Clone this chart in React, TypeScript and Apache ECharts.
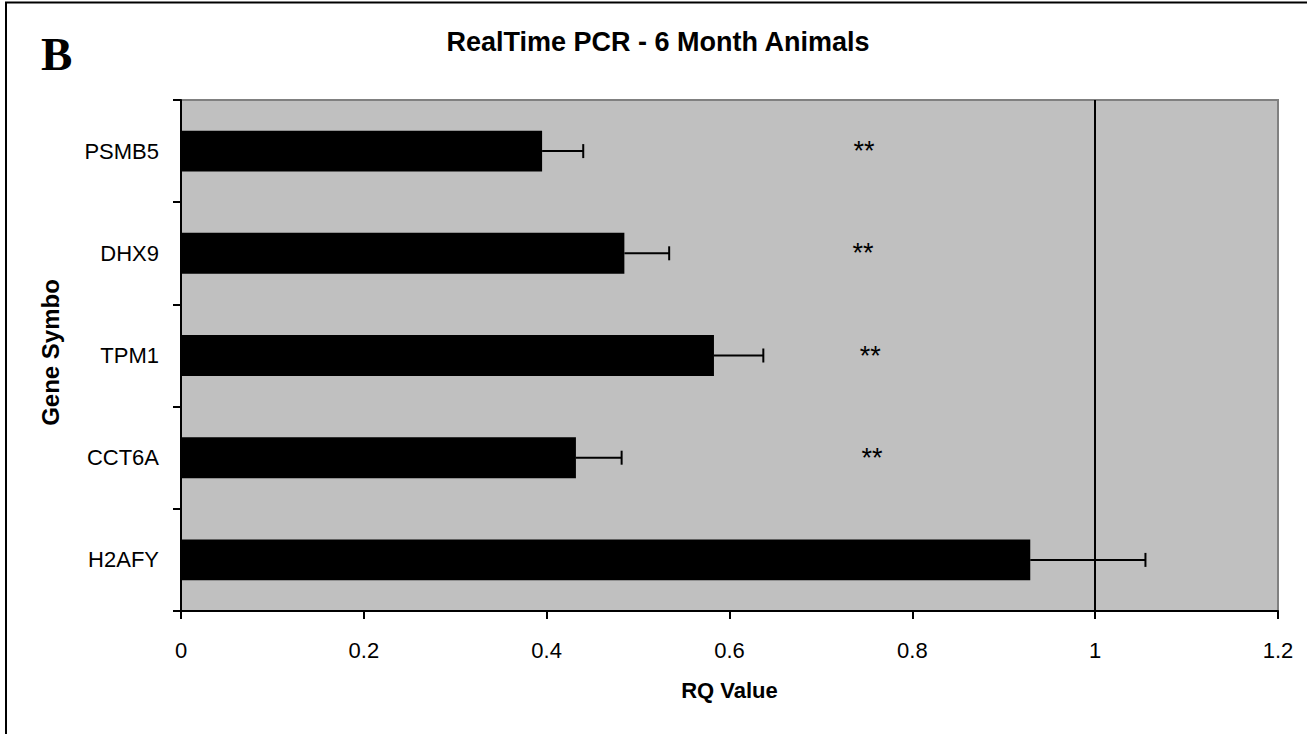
import React, { useEffect, useRef } from "react";
import * as echarts from "echarts";

const categories = ["PSMB5", "DHX9", "TPM1", "CCT6A", "H2AFY"];
const rqValues = [0.395, 0.485, 0.583, 0.432, 0.929];
const rqErrors = [0.045, 0.049, 0.054, 0.05, 0.126];
const starX = [0.747, 0.746, 0.754, 0.756, null];
const starText = ["**", "**", "**", "**", ""];
const xTicks = { min: 0, max: 1.2, interval: 0.2 };
const referenceLine = 1;

const SANS = "'Liberation Sans', Arial, sans-serif";

export default function App() {
  const ref = useRef<HTMLDivElement>(null);
  useEffect(() => {
    if (!ref.current) return;
    const chart = echarts.init(ref.current, null, { renderer: "svg" });
    const errData = categories.map((c, i) => [rqValues[i], i, rqValues[i] + rqErrors[i]]);
    const starData: any[] = [];
    starX.forEach((x, i) => {
      if (x !== null) starData.push([x, i, starText[i]]);
    });
    chart.setOption({
      animation: false,
      backgroundColor: "#ffffff",
      textStyle: { fontFamily: SANS },
      graphic: [
        {
          type: "rect",
          shape: { x: 6, y: 2.5, width: 1400, height: 800 },
          style: { fill: "none", stroke: "#000", lineWidth: 2 },
          z: 100,
        },
        {
          type: "text",
          x: 41,
          y: 30,
          style: {
            text: "B",
            fontFamily: "'Liberation Serif', 'Times New Roman', serif",
            fontWeight: "bold",
            fontSize: 47,
            fill: "#000",
            align: "left",
            verticalAlign: "top",
          },
        },
        {
          type: "text",
          x: 658,
          y: 42,
          style: {
            text: "RealTime PCR - 6 Month Animals",
            fontFamily: SANS,
            fontWeight: "bold",
            fontSize: 27,
            fill: "#000",
            align: "center",
            verticalAlign: "middle",
          },
        },
      ],
      grid: {
        left: 181,
        top: 100,
        width: 1097,
        height: 511,
        show: true,
        backgroundColor: "#C0C0C0",
        borderColor: "#808080",
        borderWidth: 2,
      },
      xAxis: {
        type: "value",
        min: xTicks.min,
        max: xTicks.max,
        interval: xTicks.interval,
        name: "RQ Value",
        nameLocation: "middle",
        nameGap: 68,
        nameTextStyle: { fontFamily: SANS, fontWeight: "bold", fontSize: 22, color: "#000" },
        axisLine: { show: true, lineStyle: { color: "#000", width: 2 } },
        axisTick: { show: true, length: 8, lineStyle: { color: "#000", width: 2 } },
        axisLabel: { margin: 28, fontSize: 22, color: "#000", fontFamily: SANS },
        splitLine: { show: false },
      },
      yAxis: {
        type: "category",
        data: categories,
        inverse: true,
        name: "Gene Symbo",
        nameLocation: "middle",
        nameGap: 119,
        nameTextStyle: { fontFamily: SANS, fontWeight: "bold", fontSize: 24, color: "#000", padding: [0, 0, 0, 6] },
        axisLine: { show: true, lineStyle: { color: "#000", width: 2 } },
        axisTick: { show: true, length: 8, lineStyle: { color: "#000", width: 2 } },
        axisLabel: { margin: 22, fontSize: 22, color: "#000", fontFamily: SANS },
        splitLine: { show: false },
      },
      series: [
        {
          type: "bar",
          data: rqValues,
          barWidth: "40%",
          itemStyle: { color: "#000" },
          markLine: {
            silent: true,
            symbol: "none",
            label: { show: false },
            lineStyle: { color: "#000", width: 2, type: "solid" },
            data: [{ xAxis: referenceLine }],
          },
        },
        {
          type: "custom",
          data: errData,
          encode: { x: [0, 2], y: 1 },
          renderItem: (params: any, api: any) => {
            const s = api.coord([api.value(0), api.value(1)]);
            const e = api.coord([api.value(2), api.value(1)]);
            const cap = 7;
            return {
              type: "group",
              children: [
                {
                  type: "line",
                  shape: { x1: s[0], y1: s[1], x2: e[0], y2: e[1] },
                  style: { stroke: "#000", lineWidth: 2 },
                },
                {
                  type: "line",
                  shape: { x1: e[0], y1: e[1] - cap, x2: e[0], y2: e[1] + cap },
                  style: { stroke: "#000", lineWidth: 2 },
                },
              ],
            };
          },
          z: 5,
        },
        {
          type: "custom",
          data: starData,
          encode: { x: 0, y: 1 },
          renderItem: (params: any, api: any) => {
            const p = api.coord([api.value(0), api.value(1)]);
            const d = starData[params.dataIndex];
            return {
              type: "text",
              x: p[0],
              y: p[1],
              style: {
                text: d[2],
                fontFamily: SANS,
                fontSize: 27,
                fill: "#000",
                align: "center",
                verticalAlign: "middle",
              },
            };
          },
          z: 6,
        },
      ],
    });
    return () => chart.dispose();
  }, []);
  return (
    <div
      ref={ref}
      style={{ position: "fixed", left: 0, top: 0, width: 1307, height: 734, background: "#fff" }}
    />
  );
}
